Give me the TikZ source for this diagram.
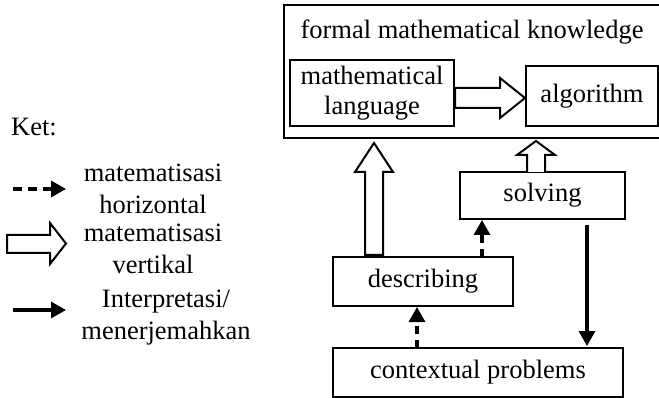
\documentclass[tikz,border=0pt]{standalone}
\usepackage{fontspec}
\setmainfont{Liberation Serif}
\usetikzlibrary{arrows.meta}
\begin{document}
\begin{tikzpicture}[x=1pt,y=-1pt,
  every node/.style={font=\fontsize{26.5}{32}\selectfont, inner sep=0pt},
  boxnode/.style={draw, line width=2pt, rectangle, align=center},
  hollow/.style={draw, line width=2pt, fill=white, line join=miter},
  dasharrow/.style={line width=3.2pt, dash pattern=on 8pt off 6pt, -{Triangle[length=15pt,width=16pt]}},
  solidarrow/.style={line width=3.2pt, -{Triangle[length=15pt,width=16pt]}},
  legtext/.style={align=center}]
\useasboundingbox (0,0) rectangle (659,398);
% outer box
\node[boxnode, minimum width=378pt, minimum height=133pt] (outer) at (473,71.5) {};
\node (title) at (472,32) {formal mathematical knowledge};
\node[boxnode, minimum width=164pt, minimum height=66pt] (lang) at (372,93) {mathematical\\[-2pt]language};
\node[boxnode, minimum width=132pt, minimum height=60pt] (algo) at (592,96) {algorithm};
\node[boxnode, minimum width=165pt, minimum height=47pt] (solve) at (542.5,195.5) {solving};
\node[boxnode, minimum width=180pt, minimum height=49pt] (desc) at (423,281.5) {describing};
\node[boxnode, minimum width=290pt, minimum height=49pt] (ctx) at (478,372.5) {contextual problems};
% hollow arrow lang -> algo
\draw[hollow] (lang.east |- 0,88) -- (500,88) -- (500,78) -- (algo.west |- 0,98) -- (500,118) -- (500,108) -- (lang.east |- 0,108) -- cycle;
% big up hollow arrow describing -> outer
\draw[hollow] (365,255) -- (365,172) -- (355,172) -- (374,143) -- (393,172) -- (383,172) -- (383,255) -- cycle;
% small up hollow arrow solving -> outer
\draw[hollow] (527,172) -- (527,155) -- (517,155) -- (536,141) -- (555,155) -- (545,155) -- (545,172);
% dashed arrows
\coordinate (d1) at (482,257);
\draw[dasharrow] (d1) -- (d1 |- solve.south);
\coordinate (d2) at (417,348);
\draw[dasharrow] (d2) -- (d2 |- desc.south);
% solid arrow
\coordinate (s1) at (587,225);
\coordinate (s2) at (587,346);
\draw[solidarrow] (s1) -- (s2);
% legend
\node[anchor=west] (ket) at (11,127) {Ket:};
\coordinate (l1a) at (13,189);
\coordinate (l1b) at (66,189);
\draw[dasharrow, dash pattern=on 9pt off 6pt] (l1a) -- (l1b);
\node[legtext] (t1) at (153,189) {matematisasi\\horizontal};
\draw[hollow] (7,235) -- (50,235) -- (50,223) -- (66,243.5) -- (50,264) -- (50,253) -- (7,253) -- cycle;
\node[legtext] (t2) at (153,248.5) {matematisasi\\vertikal};
\coordinate (l3a) at (13,310);
\coordinate (l3b) at (66,310);
\draw[solidarrow] (l3a) -- (l3b);
\node[legtext] (t3) at (166,318) {Interpretasi/\\menerjemahkan};
\end{tikzpicture}
\end{document}
